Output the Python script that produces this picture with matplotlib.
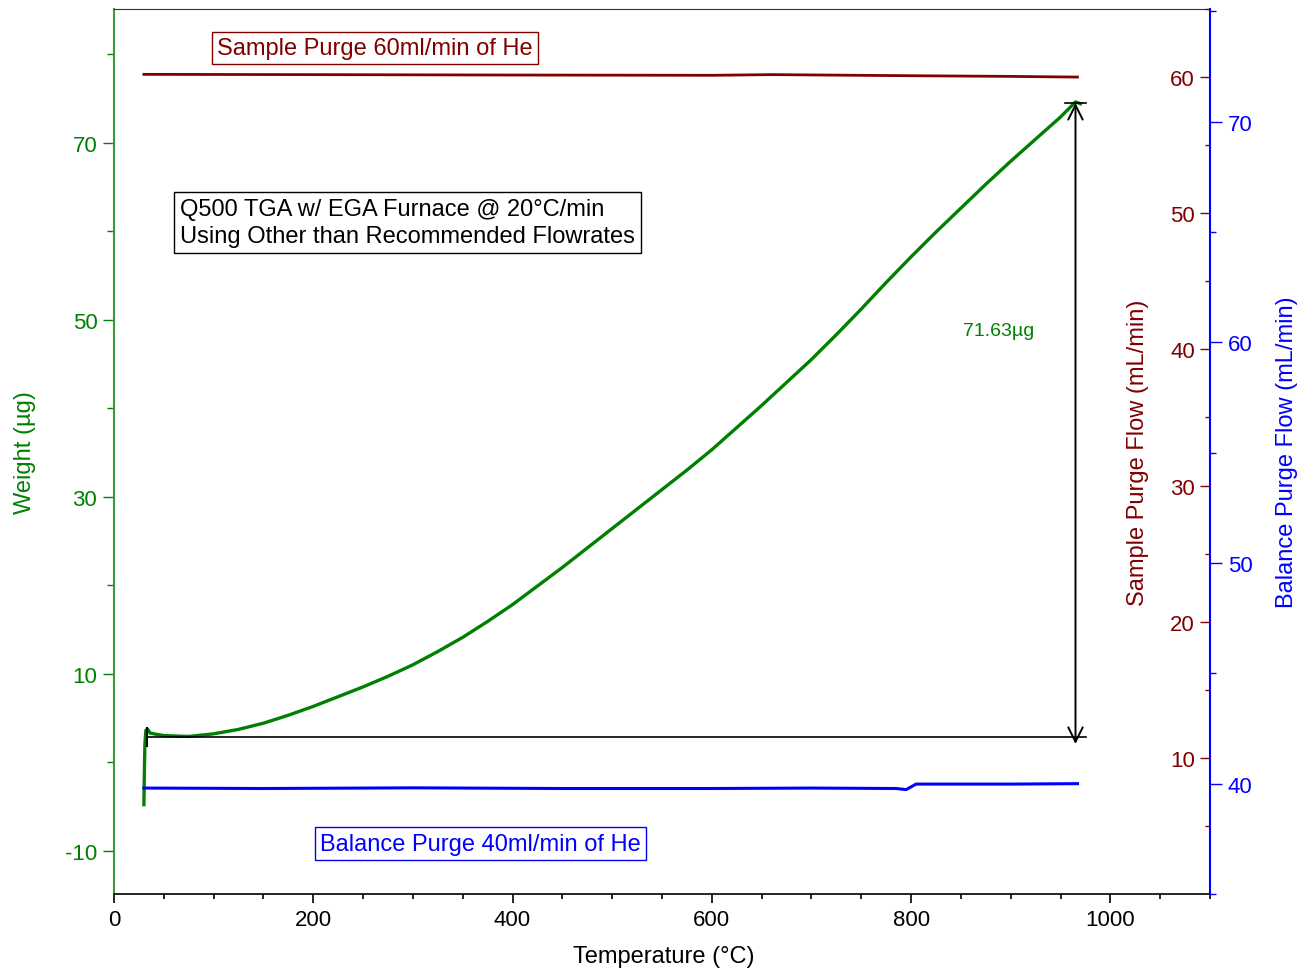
import matplotlib
matplotlib.use('Agg')
import matplotlib.pyplot as plt
from matplotlib.ticker import MultipleLocator

plt.rcParams['font.family'] = ['Liberation Sans', 'DejaVu Sans']
plt.rcParams['axes.unicode_minus'] = False

GREEN = '#008000'
RED = '#800000'
BLUE = '#0000ff'

# weight curve (ug) vs temperature (C)
temp = [30, 30.5, 31, 32, 34, 36, 40, 50, 75, 100, 125, 150, 175, 200,
        225, 250, 275, 300, 325, 350, 375, 400, 425, 450, 475, 500, 525,
        550, 575, 600, 625, 650, 675, 700, 725, 750, 775, 800, 825, 850,
        875, 900, 925, 950, 965, 970]
weight = [-4.8, -1.0, 2.0, 3.6, 3.7, 3.3, 3.2, 3.0, 2.9, 3.2, 3.7, 4.4,
          5.3, 6.3, 7.4, 8.5, 9.7, 11.0, 12.5, 14.1, 15.9, 17.8, 19.9,
          22.0, 24.2, 26.4, 28.6, 30.8, 33.0, 35.3, 37.8, 40.3, 42.9, 45.5,
          48.3, 51.2, 54.2, 57.1, 59.9, 62.6, 65.3, 67.9, 70.4, 72.9, 74.6,
          74.4]

# sample purge flow (mL/min)
sp_temp = [30, 200, 400, 600, 660, 800, 900, 967]
sp_flow = [60.2, 60.18, 60.15, 60.13, 60.18, 60.1, 60.05, 60.0]

# balance purge flow (mL/min)
bp_temp = [30, 150, 300, 450, 600, 700, 785, 795, 805, 900, 967]
bp_flow = [39.8, 39.78, 39.81, 39.78, 39.78, 39.8, 39.78, 39.73, 39.98, 39.98, 40.0]

# step measurement
base_weight = 2.85
peak_weight = 74.48
step_temp = 965
step_label = '71.63µg'

fig = plt.figure(figsize=(13, 9.7), dpi=100)
ax = fig.add_axes([114 / 1300, 75 / 970, 1096 / 1300, 885 / 970])
ax2 = ax.twinx()
ax3 = ax.twinx()

# weight axis
ax.plot(temp, weight, color=GREEN, lw=2.4)
ax.set_xlim(0, 1100)
ax.set_ylim(-14.9, 85.1)
ax.xaxis.set_major_locator(MultipleLocator(200))
ax.xaxis.set_minor_locator(MultipleLocator(50))
ax.set_yticks([-10, 10, 30, 50, 70])
ax.set_yticks([0, 20, 40, 60, 80], minor=True)
ax.tick_params(axis='x', which='major', length=6.5, width=1.2, labelsize=16, pad=4)
ax.tick_params(axis='x', which='minor', length=3.5, width=1.2)
ax.tick_params(axis='y', which='major', length=8, width=1, colors=GREEN, labelsize=16, pad=4)
ax.tick_params(axis='y', which='minor', length=5, width=1, colors=GREEN)
ax.spines['left'].set_color('#3a9a3a')
ax.spines['left'].set_linewidth(1.5)
ax.spines['right'].set_visible(False)
ax.spines['top'].set_color('#333333')
ax.spines['bottom'].set_linewidth(1.2)
ax.set_xlabel('Temperature (°C)', fontsize=17)
ax.xaxis.set_label_coords(0.5018, -0.0695)
ax.xaxis.label.set_va('center')
ax.set_ylabel('Weight (µg)', fontsize=17, color=GREEN)
ax.yaxis.set_label_coords(-0.0812, 0.5)
ax.yaxis.label.set_va('center')

# step marker
ax.plot([33, 976], [base_weight, base_weight], color='black', lw=1.2)
ax.plot([33], [base_weight], marker='|', color='black', ms=14, mew=1.5)
ax.plot([954, 976], [peak_weight, peak_weight], color='black', lw=1.2)
ax.annotate('', xy=(step_temp, peak_weight), xytext=(step_temp, base_weight - 0.8),
            arrowprops=dict(arrowstyle='<->', color='black', lw=1.4,
                            shrinkA=0, shrinkB=0, mutation_scale=26))
ax.text(888, 48.8, step_label, color=GREEN, fontsize=14, ha='center', va='center')

# text boxes
ax.text(262, 80.7, 'Sample Purge 60ml/min of He', color=RED, fontsize=17,
        ha='center', va='center',
        bbox=dict(boxstyle='square,pad=0.22', fc='white', ec=RED, lw=1))
ax.text(66, 61.0, 'Q500 TGA w/ EGA Furnace @ 20°C/min\nUsing Other than Recommended Flowrates',
        color='black', fontsize=17, ha='left', va='center', linespacing=1.28,
        bbox=dict(boxstyle='square,pad=0.25', fc='white', ec='black', lw=1))
ax.text(368, -9.2, 'Balance Purge 40ml/min of He', color=BLUE, fontsize=17,
        ha='center', va='center',
        bbox=dict(boxstyle='square,pad=0.22', fc='white', ec=BLUE, lw=1))

# sample purge axis (ticks inside, labels inside)
ax2.plot(sp_temp, sp_flow, color=RED, lw=2)
ax2.set_ylim(0, 65)
ax2.set_yticks([10, 20, 30, 40, 50, 60])
ax2.set_yticks([5, 15, 25, 35, 45, 55, 65], minor=True)
ax2.tick_params(axis='y', which='major', direction='in', length=7, width=1,
                colors=RED, labelsize=16, pad=-10.8)
ax2.tick_params(axis='y', which='minor', direction='in', length=3.5, width=1, colors=RED)
for lbl in ax2.get_yticklabels():
    lbl.set_horizontalalignment('right')
for s in ax2.spines.values():
    s.set_visible(False)
ax2.set_ylabel('Sample Purge Flow (mL/min)', fontsize=17, color=RED)
ax2.yaxis.set_label_coords(0.9343, 0.5)
ax2.yaxis.label.set_va('center')

# balance purge axis
ax3.plot(bp_temp, bp_flow, color=BLUE, lw=2.2)
ax3.set_ylim(35.07, 75.1)
ax3.set_yticks([40, 50, 60, 70])
ax3.set_yticks([35, 45, 55, 65, 75], minor=True)
ax3.tick_params(axis='y', which='major', direction='out', length=8.5, width=1,
                colors=BLUE, labelsize=16, pad=4.3)
ax3.tick_params(axis='y', which='minor', direction='out', length=4, width=1, colors=BLUE)
for name, s in ax3.spines.items():
    s.set_visible(name == 'right')
ax3.spines['right'].set_color(BLUE)
ax3.spines['right'].set_linewidth(1.5)
ax3.set_ylabel('Balance Purge Flow (mL/min)', fontsize=17, color=BLUE)
ax3.yaxis.set_label_coords(1.0703, 0.5)
ax3.yaxis.label.set_va('center')

fig.savefig('out.png', dpi=100)
